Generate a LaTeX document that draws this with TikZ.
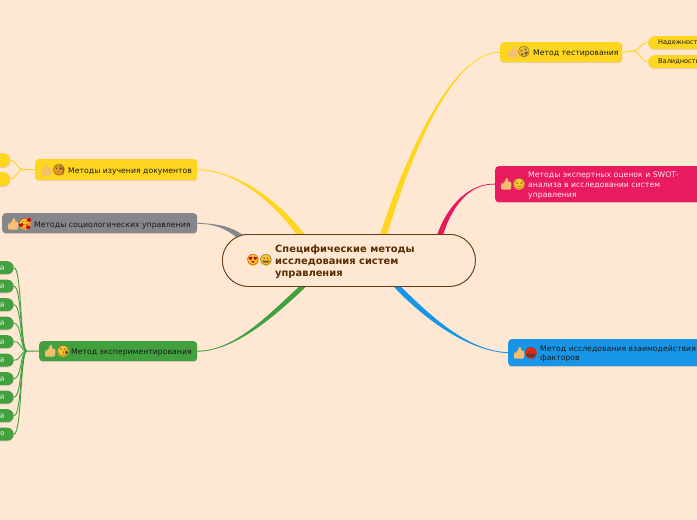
\documentclass[tikz,border=0pt]{standalone}
\usepackage{fontspec}
\setmainfont{DejaVu Sans}
\newfontfamily\emojifont{Noto Emoji}
\usetikzlibrary{calc}
\definecolor{bgc}{HTML}{FFE8D3}
\definecolor{ylw}{HTML}{FFD61F}
\definecolor{gry}{HTML}{85878C}
\definecolor{grn}{HTML}{43A03F}
\definecolor{rdd}{HTML}{E91A5E}
\definecolor{blu}{HTML}{1796E8}
\definecolor{brn}{HTML}{6B3A10}
\definecolor{brt}{HTML}{5A2D00}
\definecolor{thb}{HTML}{F4C070}
\definecolor{fce}{HTML}{FFC42E}
\definecolor{fco}{HTML}{F59B1C}
\tikzset{
 box/.style={rounded corners=3.5pt,inner sep=0pt,anchor=north west,
   preaction={fill=black,fill opacity=.10,transform canvas={yshift=-1pt}}},
 leaf/.style={box,rounded corners=6.5pt},
 center box/.style={rounded corners=26pt,draw=brn,fill=bgc,line width=.8pt,minimum width=253pt,minimum height=52pt,inner sep=0pt,anchor=north west},
 lab/.style={inner sep=0pt,anchor=west,font=\fontsize{7.75}{9.6}\selectfont,align=left,text=black!90},
 leaflab/.style={inner sep=0pt,anchor=west,font=\fontsize{6.6}{8}\selectfont,text=black!90},
 emo/.style={inner sep=0pt,font=\fontsize{10.5}{10.5}\emojifont},
 disc/.style={circle,inner sep=0pt,minimum size=11.5pt},
 twig/.style={line width=.9pt}
}
% name, position
\newcommand{\thumbat}[2]{%
 \fill[thb,rounded corners=1pt,shift={(#2)}] (-5,0) -- (-2.5,0) -- (-.5,-3.5) -- (0,-6) -- (2,-6) -- (2,-2) -- (5.5,-2) -- (5,5.5) -- (-5,5.5) -- cycle;
 \node[emo,text=thb] (#1) at (#2) {👍};}
% name, position, disc colour, glyph colour, glyph
\newcommand{\faceat}[5]{\node[disc,fill=#3] (#1d) at (#2) {};\node[emo,text=#4] (#1) at (#2) {#5};}
% colour, root a, root b, ctrl1 a, ctrl1 b, ctrl2, tip
\newcommand{\branch}[7]{\fill[#1] (#2) .. controls (#4) and (#6) .. ($(#7)+(0,-.5)$) -- ($(#7)+(0,.5)$) .. controls (#6) and (#5) .. (#3) -- cycle;}
\begin{document}
\begin{tikzpicture}[x=1pt,y=-1pt]
\useasboundingbox (0,0) rectangle (697,520);
\clip (0,0) rectangle (697,520);
\fill[bgc] (0,0) rectangle (697,520);
% boxes
\node[box,fill=ylw,minimum width=122pt,minimum height=20pt] (tt) at (500,42) {};
\node[box,fill=rdd,minimum width=230pt,minimum height=36pt] (rr) at (495,166) {};
\node[box,fill=blu,minimum width=220pt,minimum height=27pt] (bb) at (508,339) {};
\node[box,fill=ylw,minimum width=162pt,minimum height=21pt] (dd) at (35,159) {};
\node[box,fill=gry,minimum width=195pt,minimum height=20pt] (gg) at (2,213) {};
\node[box,fill=grn,minimum width=158pt,minimum height=20pt] (ee) at (39,341) {};
% central
\node[center box] (cc) at (222,234) {};
% branch roots on the central node
\coordinate (a1) at ($(cc.north west)+(158,1)$);\coordinate (a2) at ($(cc.north west)+(165,1)$);
\coordinate (b1) at ($(cc.north west)+(215,1)$);\coordinate (b2) at ($(cc.north west)+(221,1)$);
\coordinate (c1) at ($(cc.south west)+(171,-1)$);\coordinate (c2) at ($(cc.south west)+(178,-1)$);
\coordinate (d1) at ($(cc.north west)+(75,1)$);\coordinate (d2) at ($(cc.north west)+(83,1)$);
\coordinate (e1) at ($(cc.north west)+(14,3)$);\coordinate (e2) at ($(cc.north west)+(21,1)$);
\coordinate (f1) at ($(cc.south west)+(78,-1)$);\coordinate (f2) at ($(cc.south west)+(85,-1)$);
\branch{ylw}{a1}{a2}{402.5,164}{407.5,166}{450,52}{tt.west}
\branch{rdd}{b1}{b2}{448,204}{452,206}{470,183}{rr.west}
\branch{blu}{c2}{c1}{425,310}{419,314}{465,351}{bb.west}
\branch{ylw}{d2}{d1}{277,198}{273,202}{235,170}{dd.east}
\branch{gry}{e2}{e1}{227,224}{224,227}{212,224}{gg.east}
\branch{grn}{f1}{f2}{270,313}{274,317}{235,351}{ee.east}
% redraw central over roots
\node[center box] (cc2) at (222,234) {};
% right leaves
\node[leaf,fill=ylw,minimum width=70pt,minimum height=13pt] (t1) at (648,36) {};
\node[leaf,fill=ylw,minimum width=70pt,minimum height=13pt] (t2) at (648,55) {};
\node[leaflab] at (658,42.5) {Надежность};
\node[leaflab] at (658,61.5) {Валидность};
\coordinate (tf) at (633,51);
\draw[ylw,line width=1pt] (tt.east) -- (tf);
\draw[ylw,twig] (tf) .. controls (640,51) and (640,42.5) .. (t1.west);
\draw[ylw,twig] (tf) .. controls (640,51) and (640,61.5) .. (t2.west);
% left yellow leaves
\node[leaf,fill=ylw,minimum width=40pt,minimum height=14pt] (d1l) at (-30,153) {};
\node[leaf,fill=ylw,minimum width=40pt,minimum height=14pt] (d2l) at (-30,172) {};
\coordinate (df) at (23,169.5);
\draw[ylw,line width=1pt] (dd.west) -- (df);
\draw[ylw,twig] (df) .. controls (17,169.5) and (16,160) .. (d1l.east);
\draw[ylw,twig] (df) .. controls (17,169.5) and (16,179) .. (d2l.east);
% green leaves
\coordinate (ef) at (27,351);
\draw[grn,line width=1pt] (ee.west) -- (ef);
\foreach \n/\y/\t in {0/267.5/й,1/286/й,2/304.5/й,3/323/й,4/341.5/й,5/360/й,6/378.5/й,7/397/й,8/415.5/й,9/434/о}{
  \node[leaf,fill=grn,minimum width=43.5pt,minimum height=13pt] (el\n) at (-30,\y-6.5) {};
  \node[leaflab,anchor=east,text=white] at (4.5,\y) {\t};
  \draw[grn,twig] (ef) .. controls (20,351) and (22,\y) .. (el\n.east);
}
% emoji
\thumbat{p1}{513,52}\faceat{f1}{524,52}{fce}{black!75}{🤪}
\thumbat{p2}{506,184}\faceat{f2}{519,184}{fce}{black!70}{😏}
\thumbat{p3}{519,353}\faceat{f3}{531,353}{red!70!orange}{black!75}{🤬}
\thumbat{p4}{46,170}\faceat{f4}{59,170}{fco}{black!75}{🧐}
\thumbat{p5}{13,224}\faceat{f5}{25,224}{fce}{red!85!black}{🥰}
\thumbat{p6}{50,351}\faceat{f6}{63,351}{fce}{black!75}{😘}
\faceat{c1}{253,260}{fce}{red!70!black}{😍}
\faceat{c2}{266,260}{fce}{black!75}{😀}
% labels
\node[inner sep=0pt,anchor=west,align=left,text=brt,font=\fontsize{9.9}{12}\selectfont\bfseries] (ct) at (275,261.5) {Специфические методы\\исследования систем\\управления};
\node[lab] (tl) at (533,53.2) {Метод тестирования};
\node[lab,text=white!90!rdd] (rl) at (528,185.5) {Методы экспертных оценок и SWOT-\\анализа в исследовании систем\\управления};
\node[lab] (bl) at (540,354) {Метод исследования взаимодействия\\факторов};
\node[lab] (dl) at (68,171.2) {Методы изучения документов};
\node[lab] (gl) at (34,225.2) {Методы социологических управления};
\node[lab] (el) at (71,352.2) {Метод экспериментирования};
\end{tikzpicture}
\end{document}
